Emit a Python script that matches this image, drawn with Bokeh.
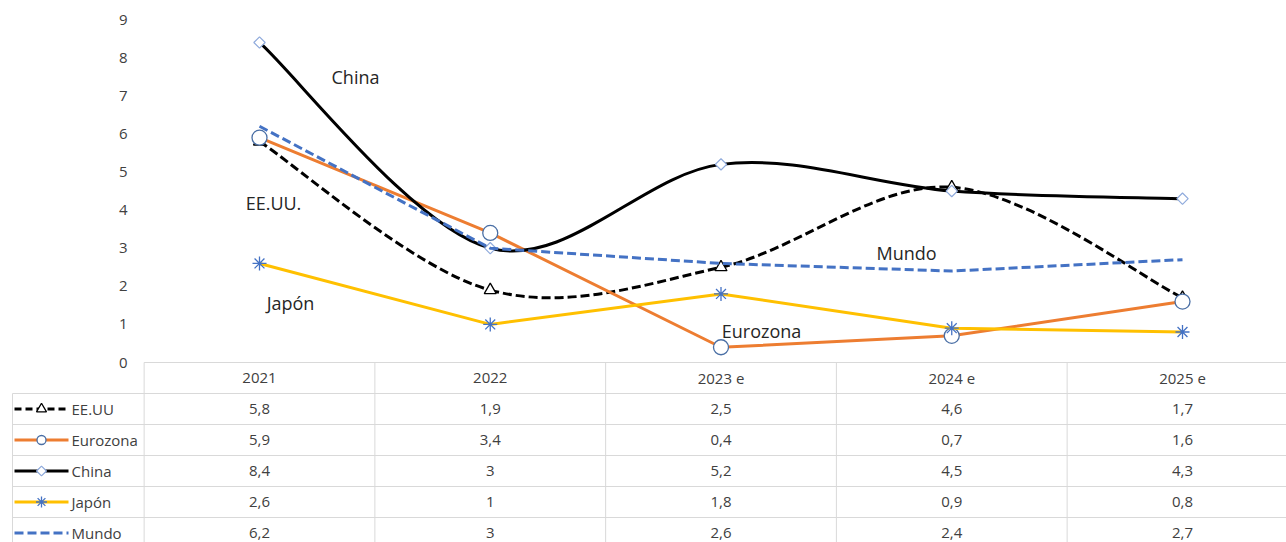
import math
from bokeh.plotting import figure
from bokeh.models import Range1d
from bokeh.embed import file_html
from bokeh.resources import INLINE
from bokeh.core.properties import value

# ---------------- data ----------------
categories = ["2021", "2022", "2023 e", "2024 e", "2025 e"]
eeuu = [5.8, 1.9, 2.5, 4.6, 1.7]
eurozona = [5.9, 3.4, 0.4, 0.7, 1.6]
china = [8.4, 3.0, 5.2, 4.5, 4.3]
japon = [2.6, 1.0, 1.8, 0.9, 0.8]
mundo = [6.2, 3.0, 2.6, 2.4, 2.7]
series_names = ["EE.UU", "Eurozona", "China", "Japón", "Mundo"]
chart_labels = ["China", "EE.UU.", "Japón", "Eurozona", "Mundo"]
y_ticks = [0, 1, 2, 3, 4, 5, 6, 7, 8, 9]

# ---------------- geometry ----------------
W, H = 1286, 542
OFF = 0                # observed offset of the figure in the picture
X0, DXP = 259.0, 230.75   # x of first category, px per category
Y0, DYP = 362.0, 38.1     # y of value 0, px per unit


def dx(px):
    return (px - X0) / DXP


def dy(py):
    return (Y0 - py) / DYP


p = figure(width=W, height=H, output_backend="svg", toolbar_location=None,
           x_range=Range1d(dx(OFF), dx(OFF + W)),
           y_range=Range1d(dy(OFF + H), dy(OFF)),
           x_axis_type=None, y_axis_type=None, min_border=0)
p.min_border_left = p.min_border_right = p.min_border_top = p.min_border_bottom = 0
p.outline_line_color = None
p.background_fill_color = "white"
p.border_fill_color = "white"

FONT = value("Open Sans")
TXT = "#404040"
GRID = "#d9d9d9"

xs = list(range(len(categories)))


def smooth(xv, yv):
    n = len(xv)
    out = dict(x0=[], y0=[], x1=[], y1=[], cx0=[], cy0=[], cx1=[], cy1=[])
    for i in range(n - 1):
        pm = i - 1 if i > 0 else i
        pp = i + 2 if i + 2 < n else i + 1
        out["x0"].append(xv[i]); out["y0"].append(yv[i])
        out["x1"].append(xv[i + 1]); out["y1"].append(yv[i + 1])
        out["cx0"].append(xv[i] + (xv[i + 1] - xv[pm]) / 6)
        out["cy0"].append(yv[i] + (yv[i + 1] - yv[pm]) / 6)
        out["cx1"].append(xv[i + 1] - (xv[pp] - xv[i]) / 6)
        out["cy1"].append(yv[i + 1] - (yv[pp] - yv[i]) / 6)
    return out


# ---------------- table grid ----------------
row_h = 31.0
table_top = 362.0
rows_top = [table_top + row_h * k for k in range(7)]
far_right = dx(OFF + W + 20)
far_bottom = dy(OFF + H + 20)
p.segment(x0=[-0.5], y0=[0], x1=[far_right], y1=[0], line_color=GRID, line_width=1)
for ry in rows_top[1:6]:
    p.segment(x0=[dx(12)], y0=[dy(ry)], x1=[far_right], y1=[dy(ry)],
              line_color=GRID, line_width=1)
p.segment(x0=[dx(12)], y0=[dy(rows_top[1])], x1=[dx(12)], y1=[far_bottom],
          line_color=GRID, line_width=1)
vx = [i - 0.5 for i in range(len(categories) + 1)]
p.segment(x0=vx, y0=[0] * len(vx), x1=vx, y1=[far_bottom] * len(vx),
          line_color=GRID, line_width=1)

# header text
p.text(x=xs, y=[dy(table_top + row_h / 2)] * len(xs), text=categories,
       text_font=FONT, text_font_size="15px", text_color=TXT,
       text_align="center", text_baseline="middle")

# y tick labels
p.text(x=[dx(127)] * len(y_ticks), y=y_ticks, text=[str(t) for t in y_ticks],
       text_font=FONT, text_font_size="15px", text_color=TXT,
       text_align="right", text_baseline="middle")

# ---------------- series ----------------
Q = math.pi / 4
series = [
    dict(name="EE.UU", vals=eeuu, color="black", dash="9 4", leg_dash="7 4", smooth=True,
         marker="triangle", angle=0, m_line="black", m_fill="white", m_size=12, l_size=10, m_lw=1.3),
    dict(name="Eurozona", vals=eurozona, color="#ED7D31", dash="solid", leg_dash="solid", smooth=False,
         marker="circle", angle=0, m_line="#4a6fa5", m_fill="white", m_size=15, l_size=9, m_lw=1.3),
    dict(name="China", vals=china, color="black", dash="solid", leg_dash="solid", smooth=True,
         marker="square", angle=Q, m_line="#8faadc", m_fill="white", m_size=8, l_size=7, m_lw=1.2),
    dict(name="Japón", vals=japon, color="#FFC000", dash="solid", leg_dash="solid", smooth=False,
         marker="asterisk", angle=0, m_line="#4472C4", m_fill="white", m_size=14, l_size=11, m_lw=1.3),
    dict(name="Mundo", vals=mundo, color="#4472C4", dash="9 4", leg_dash="9 4", smooth=False,
         marker=None, angle=0, m_line=None, m_fill=None, m_size=0, l_size=0, m_lw=0),
]

for k, s in enumerate(series):
    if s["smooth"]:
        b = smooth(xs, s["vals"])
        p.bezier(x0=b["x0"], y0=b["y0"], x1=b["x1"], y1=b["y1"],
                 cx0=b["cx0"], cy0=b["cy0"], cx1=b["cx1"], cy1=b["cy1"],
                 line_color=s["color"], line_width=3, line_dash=s["dash"])
    else:
        p.line(xs, s["vals"], line_color=s["color"], line_width=3, line_dash=s["dash"])
    if s["marker"]:
        p.scatter(xs, s["vals"], marker=s["marker"], size=s["m_size"], angle=s["angle"],
                  line_color=s["m_line"], fill_color=s["m_fill"], line_width=s["m_lw"])

    # table row: legend sample + values
    cy = dy(rows_top[k + 1] + row_h / 2)
    p.segment(x0=[dx(14)], y0=[cy], x1=[dx(68)], y1=[cy], line_color=s["color"],
              line_width=3, line_dash=s["leg_dash"])
    if s["marker"]:
        p.scatter([dx(41)], [cy], marker=s["marker"], size=s["l_size"], angle=s["angle"],
                  line_color=s["m_line"], fill_color=s["m_fill"], line_width=s["m_lw"])
    p.text(x=[dx(71)], y=[cy], text=[s["name"]], text_font=FONT, text_font_size="15px",
           text_color=TXT, text_align="left", text_baseline="middle")
    p.text(x=xs, y=[cy] * len(xs),
           text=[f"{v:g}".replace(".", ",") for v in s["vals"]],
           text_font=FONT, text_font_size="15px", text_color=TXT,
           text_align="center", text_baseline="middle")

# ---------------- in-chart labels ----------------
label_x = [dx(355), dx(273), dx(290), dx(761), dx(906)]
label_y = [dy(76), dy(202), dy(302), dy(330), dy(252)]
p.text(x=label_x, y=label_y, text=chart_labels, text_font=FONT, text_font_size="18px",
       text_color="#262626", text_align="center", text_baseline="alphabetic")

open("out.html", "w").write(file_html(p, INLINE))
